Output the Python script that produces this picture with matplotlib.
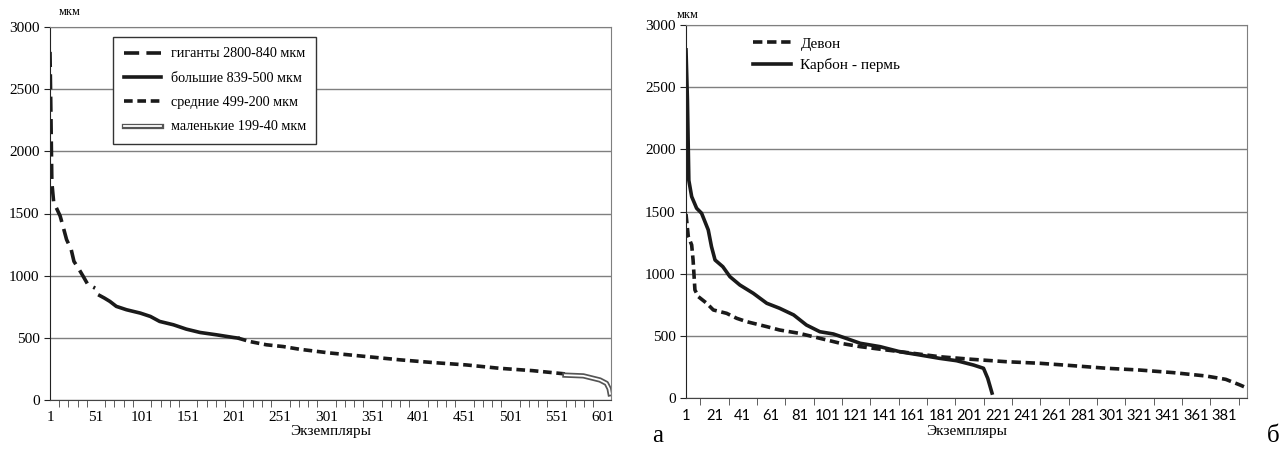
import matplotlib
matplotlib.use("Agg")
import matplotlib.pyplot as plt
import matplotlib.patheffects as pe
from matplotlib.ticker import FixedLocator

plt.rcParams["font.family"] = ["Liberation Serif", "DejaVu Serif"]

# ---- panel а: one sorted series split by size class ----
giant_x = [1, 2, 3, 5, 7, 12, 15, 19, 24, 27, 33, 37, 42, 50]
giant_y = [2800, 2300, 1750, 1590, 1560, 1480, 1400, 1290, 1210, 1115, 1045, 995, 930, 900]
large_x = [55, 60, 66, 73, 84, 99, 110, 120, 135, 149, 164, 182, 200, 205]
large_y = [840, 820, 793, 753, 726, 699, 672, 632, 605, 570, 543, 524, 503, 498]
medium_x = [205, 218, 236, 254, 272, 305, 345, 381, 417, 453, 489, 525, 560]
medium_y = [498, 470, 444, 430, 408, 378, 349, 323, 301, 282, 255, 236, 210]
small_x = [560, 580, 598, 605, 608, 609]
small_y = [200, 194, 161, 134, 90, 50]
n_left = 610

# ---- panel б ----
carbon_x = [1, 2, 3, 5, 8.5, 12, 16.7, 19, 21.5, 27, 32, 39, 48.5, 58, 67, 77, 86, 95.5,
            105, 114, 124, 138, 152, 166, 180, 192, 204, 211, 214, 217]
carbon_y = [2800, 2400, 1750, 1620, 1526, 1486, 1352, 1217, 1110, 1056, 976, 909, 842, 762,
            722, 668, 587, 533, 515, 480, 440, 413, 372, 346, 319, 300, 265, 239, 158, 40]
devon_x = [1, 2.6, 5, 6, 7.3, 9.7, 15.6, 20.3, 29.7, 36.8, 43.8, 58, 67, 81, 95.5, 110, 124,
           142.5, 161, 180, 203, 227, 251, 274, 298, 321, 345, 368, 382, 392, 397]
devon_y = [1480, 1300, 1231, 1110, 869, 815, 762, 708, 681, 641, 614, 574, 547, 520, 480,
           440, 413, 386, 360, 332, 311, 292, 279, 260, 239, 225, 204, 177, 150, 105, 80]
n_right = 397

W, H = 1288, 450
fig = plt.figure(figsize=(W / 100, H / 100), dpi=100)


def make_axes(left, right, top, bottom):
    return fig.add_axes([left / W, 1 - bottom / H, (right - left) / W, (bottom - top) / H])


def style_axes(ax, n, step_lab, tick_font, tick_size):
    ax.set_xlim(1, n)
    ax.set_ylim(0, 3000)
    ax.set_yticks(range(0, 3001, 500))
    ax.yaxis.grid(True, color="#7f7f7f", lw=1)
    ax.set_axisbelow(True)
    for s in ["top", "right"]:
        ax.spines[s].set_color("#7f7f7f")
    ax.spines["left"].set_color("#222222")
    ax.spines["bottom"].set_color("#444444")
    ax.xaxis.set_major_locator(FixedLocator(list(range(1, n + 1, step_lab))))
    ax.xaxis.set_minor_locator(FixedLocator(list(range(1, n + 1, 10))))
    ax.tick_params(axis="x", which="both", direction="out", length=5, color="#444444")
    ax.tick_params(axis="x", which="major", length=0, pad=8)
    ax.tick_params(axis="y", direction="out", length=4, color="#222222", labelsize=11)
    for lab in ax.get_xticklabels():
        lab.set_fontfamily(tick_font)
        lab.set_fontsize(tick_size)
    ax.set_xlabel("Экземпляры", fontsize=11, labelpad=1)


lw = 2.6

# panel а
ax1 = make_axes(50, 611, 27, 400)
ax1.plot(giant_x, giant_y, color="#1a1a1a", lw=lw, dashes=(4.2, 2.0),
         label="гиганты 2800-840 мкм")
ax1.plot(large_x, large_y, color="#1a1a1a", lw=lw, label="большие 839-500 мкм")
ax1.plot(medium_x, medium_y, color="#1a1a1a", lw=lw, dashes=(2.4, 1.3),
         label="средние 499-200 мкм")
ax1.plot(small_x, small_y, color="white", lw=1.3,
         path_effects=[pe.Stroke(linewidth=3.8, foreground="#555555"), pe.Normal()],
         label="маленькие 199-40 мкм")
style_axes(ax1, n_left, 50, "Liberation Serif", 11)
leg1 = ax1.legend(loc="upper left", bbox_to_anchor=(0.105, 0.985), fontsize=10.2,
                  frameon=True, fancybox=False, edgecolor="#333333", framealpha=1,
                  handlelength=2.6, handletextpad=0.7, labelspacing=0.8,
                  borderpad=0.75, borderaxespad=0.3)
leg1.get_frame().set_linewidth(1)
fig.text(70 / W, 1 - 12 / H, "мкм", fontsize=9, ha="center", va="center")
fig.text(658 / W, 1 - 436 / H, "а", fontsize=18, ha="center", va="center")

# panel б
ax2 = make_axes(686, 1247, 25, 398)
ax2.plot(devon_x, devon_y, color="#1a1a1a", lw=lw, dashes=(2.6, 1.3), label="Девон")
ax2.plot(carbon_x, carbon_y, color="#1a1a1a", lw=lw, label="Карбон - пермь")
style_axes(ax2, n_right, 20, "Lato", 10.5)
ax2.legend(loc="upper left", bbox_to_anchor=(0.095, 1.005), fontsize=11, frameon=False,
           handlelength=2.5, handletextpad=0.6, labelspacing=0.5)
fig.text(688 / W, 1 - 15 / H, "мкм", fontsize=9, ha="center", va="center")
fig.text(1273 / W, 1 - 436 / H, "б", fontsize=18, ha="center", va="center")

fig.savefig("out.png", dpi=100)
